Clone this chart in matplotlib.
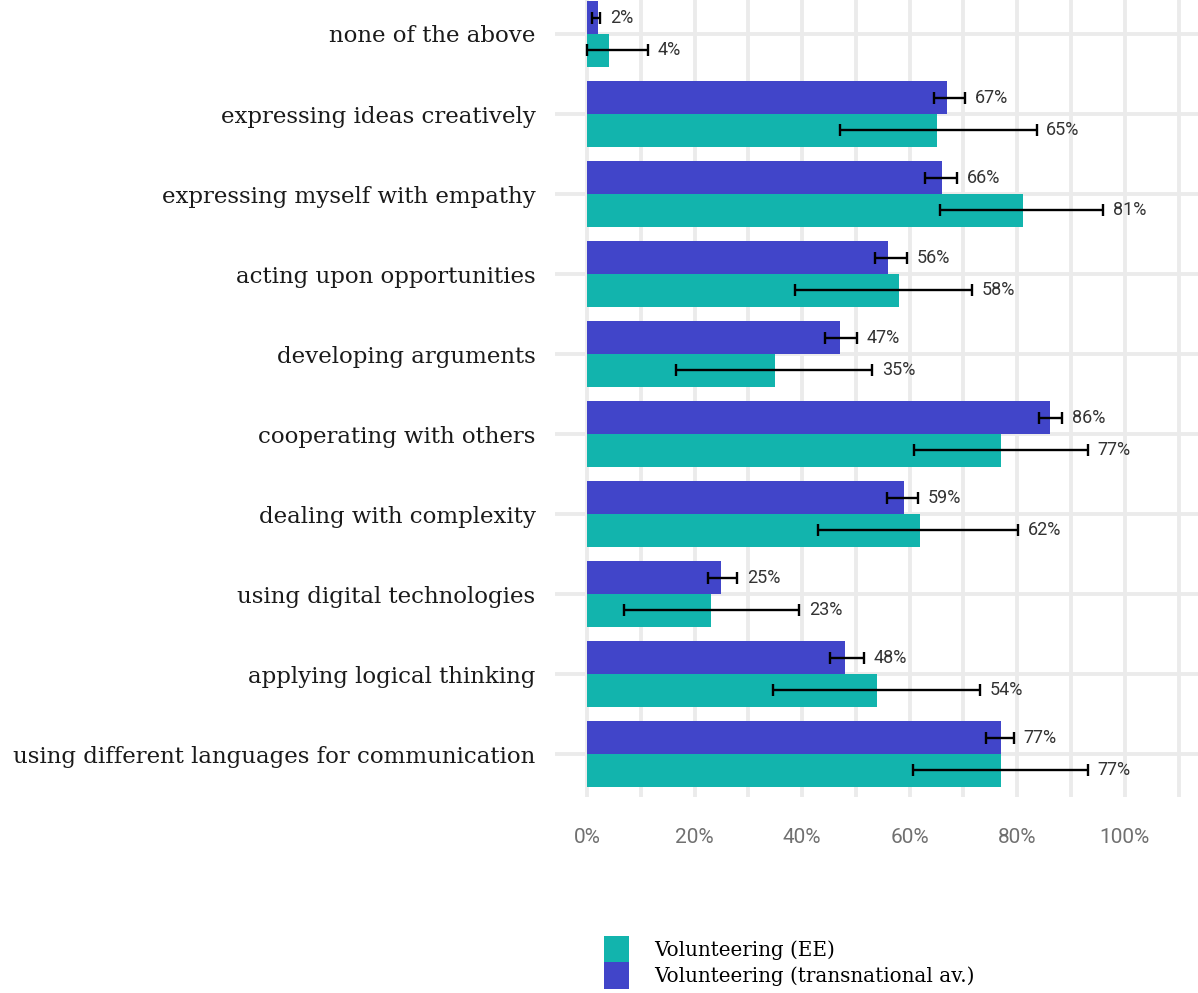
import matplotlib
matplotlib.use("Agg")
import matplotlib.pyplot as plt
from matplotlib.patches import Patch
import numpy as np

categories = [
    "none of the above",
    "expressing ideas creatively",
    "expressing myself with empathy",
    "acting upon opportunities",
    "developing arguments",
    "cooperating with others",
    "dealing with complexity",
    "using digital technologies",
    "applying logical thinking",
    "using different languages for communication",
]
# Volunteering (transnational av.)
trans_val = [2, 67, 66, 56, 47, 86, 59, 25, 48, 77]
trans_lo = [1.0, 64.5, 62.8, 53.5, 44.2, 84.1, 55.8, 22.5, 45.2, 74.2]
trans_hi = [2.4, 70.3, 68.8, 59.5, 50.2, 88.3, 61.6, 27.9, 51.5, 79.4]
# Volunteering (EE)
ee_val = [4, 65, 81, 58, 35, 77, 62, 23, 54, 77]
ee_lo = [0.0, 47.0, 65.6, 38.7, 16.5, 60.8, 42.9, 6.9, 34.6, 60.6]
ee_hi = [11.3, 83.6, 95.9, 71.6, 53.0, 93.1, 80.2, 39.4, 73.0, 93.1]
series_names = ["Volunteering (EE)", "Volunteering (transnational av.)"]
xticks = [0, 20, 40, 60, 80, 100]
xtick_labels = ["0%", "20%", "40%", "60%", "80%", "100%"]

TEAL = "#12B4AD"
BLUE = "#4145C9"

W, H = 1198, 993
fig = plt.figure(figsize=(W / 100, H / 100), dpi=100)
ax = fig.add_axes([555 / W, 1 - 797 / H, 1 - 555 / W, 797 / H])

n = len(categories)
y = np.arange(n)[::-1].astype(float)  # top category highest
bh = 0.41

ax.barh(y + bh / 2, trans_val, height=bh, color=BLUE, zorder=2)
ax.barh(y - bh / 2, ee_val, height=bh, color=TEAL, zorder=2)

def errs(vals, lo, hi, yy):
    v = np.array(vals, float)
    ax.errorbar(v, yy, xerr=[v - np.array(lo), np.array(hi) - v], fmt="none",
                ecolor="black", elinewidth=1.7, capsize=4.0, capthick=1.7, zorder=3)
    for val, h, yi in zip(vals, hi, yy):
        ax.annotate(f"{val}%", xy=(h, yi), xytext=(7, 0), textcoords="offset points",
                    va="center", ha="left", fontsize=13, color="#333333",
                    family="Roboto", zorder=4)

errs(trans_val, trans_lo, trans_hi, y + bh / 2)
errs(ee_val, ee_lo, ee_hi, y - bh / 2)

ax.set_xlim(-5.95, 113.6)
ax.set_ylim(-0.5375, 9.425)

ax.set_xticks(xticks)
ax.set_xticklabels(xtick_labels, family="Roboto", fontsize=15, color="#707070")
ax.set_xticks([10, 30, 50, 70, 90, 110], minor=True)
ax.set_yticks(y)
ax.set_yticklabels(categories, family="DejaVu Serif", fontsize=16.5, color="#1a1a1a")
ax.tick_params(axis="both", which="both", length=0)
ax.tick_params(axis="y", pad=14)
ax.tick_params(axis="x", pad=22)

ax.grid(True, which="both", axis="x", color="#EBEBEB", linewidth=2.8, zorder=0)
ax.grid(True, which="major", axis="y", color="#EBEBEB", linewidth=2.8, zorder=0)
ax.set_axisbelow(True)
for s in ax.spines.values():
    s.set_visible(False)

handles = [Patch(facecolor=TEAL, edgecolor="none"), Patch(facecolor=BLUE, edgecolor="none")]
fig.legend(handles, series_names, loc="upper left", bbox_to_anchor=(604 / W, 1 - 936 / H),
           frameon=False, prop={"family": "DejaVu Serif", "size": 14.3},
           handlelength=1.27, handleheight=1.67, handletextpad=1.25, labelspacing=0.0,
           borderpad=0, borderaxespad=0)

fig.savefig("out.png", dpi=100)
